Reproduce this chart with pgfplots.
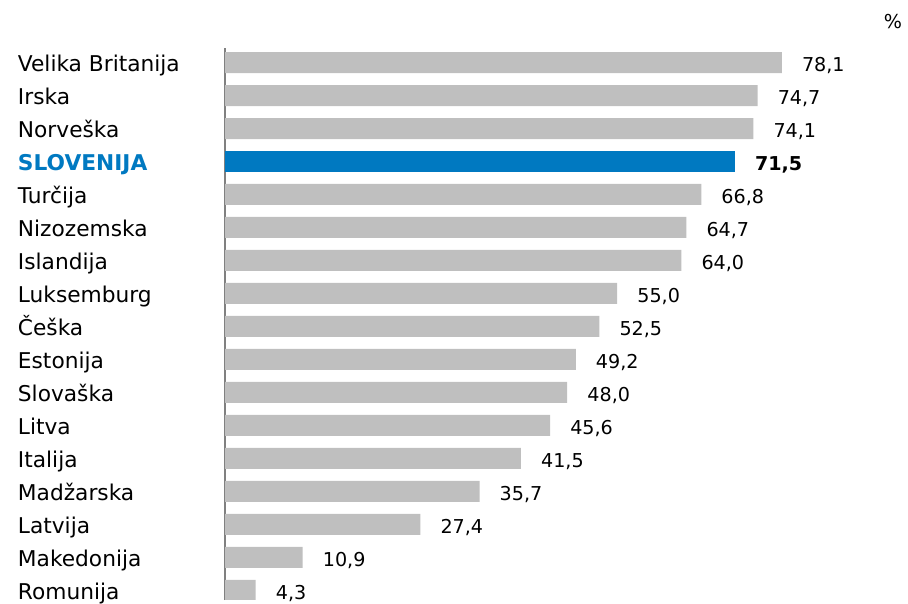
\documentclass[border=0pt]{standalone}
\usepackage{pgfplots}
\pgfplotsset{compat=1.18}
\usepackage{fontspec}
\setmainfont{DejaVu Sans}
\definecolor{barg}{RGB}{191,191,191}
\definecolor{sblue}{RGB}{0,121,193}
\definecolor{axg}{RGB}{128,128,128}
\begin{document}
\begin{tikzpicture}
\path[use as bounding box] (0,0) rectangle (908bp,604bp);
\begin{axis}[
  at={(225bp,4bp)}, anchor=south west, scale only axis,
  width=713bp, height=552bp,
  xmin=0, xmax=100, ymin=-0.29, ymax=16.44,
  axis x line=none, axis y line=left,
  y axis line style={-, draw=axg, line width=1.5bp},
  ytick={0,...,16},
  yticklabels={Romunija,Makedonija,Latvija,Madžarska,Italija,Litva,Slovaška,Estonija,Češka,Luksemburg,Islandija,Nizozemska,Turčija,{\textcolor{sblue}{\bfseries SLOVENIJA}},Norveška,Irska,Velika Britanija},
  ytick style={draw=none},
  yticklabel style={anchor=west, inner sep=0pt, xshift=-203bp, yshift=-5bp, text height=0.729em, text depth=0pt, font=\fontsize{21.8}{26}\selectfont},
  xbar, bar width=21bp, bar shift=0pt,
  nodes near coords,
  nodes near coords style={anchor=west, inner sep=0pt, xshift=20bp, yshift=-5bp, text height=0.729em, text depth=0pt, font=\fontsize{19.2}{23}\selectfont, text=black},
  /pgf/number format/.cd, use comma, fixed, fixed zerofill, precision=1, assume math mode=true
]
\addplot[fill=barg, draw=none] coordinates {
 (4.3,0) (10.9,1) (27.4,2) (35.7,3) (41.5,4) (45.6,5) (48.0,6) (49.2,7) (52.5,8) (55.0,9) (64.0,10) (64.7,11) (66.8,12) (74.1,14) (74.7,15) (78.1,16)
};
\addplot[fill=sblue, draw=none, nodes near coords style={font=\fontsize{19.2}{23}\selectfont\bfseries}] coordinates {
 (71.5,13)
};
\end{axis}
\node[font=\fontsize{19.2}{23}\selectfont, anchor=center] at (893bp,582bp) {\%};
\end{tikzpicture}
\end{document}
